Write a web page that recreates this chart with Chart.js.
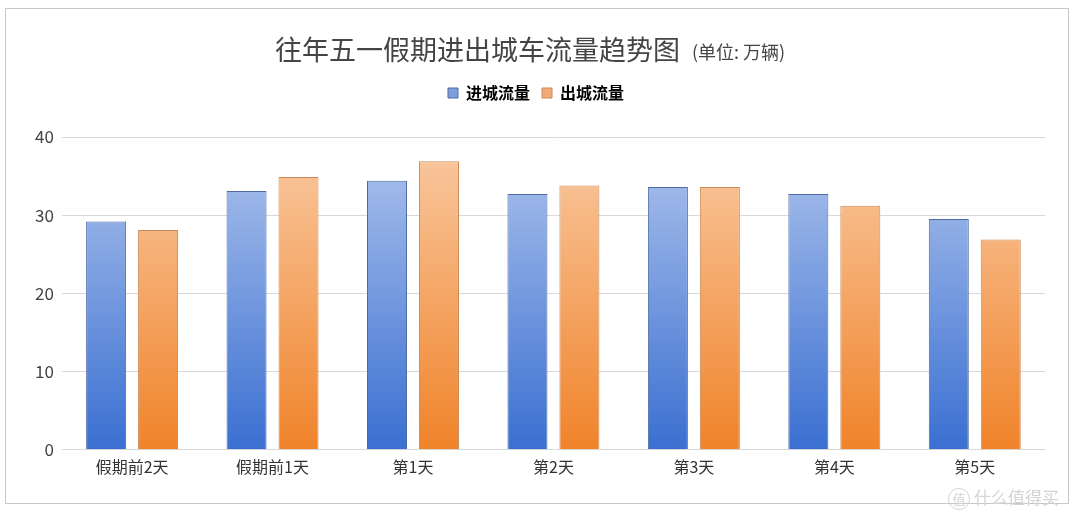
<!DOCTYPE html>
<html>
<head>
<meta charset="utf-8">
<script src="https://cdn.jsdelivr.net/npm/chart.js@4"></script>
<style>
    body { margin: 0; background: #fff; }
    #wrap { position: relative; width: 1080px; height: 519px; }
    #frame {
        position: absolute; left: 5px; top: 8px; width: 1062px; height: 494px;
        border: 1px solid #c8c8c8; pointer-events: none;
    }
    #mark {
        position: absolute; left: 948px; top: 484px;
        font-family: "Noto Sans CJK SC", sans-serif; font-size: 17px; color: #d4d4d4;
    }
    #mark span {
        display: inline-block; width: 20px; height: 20px; line-height: 20px; text-align: center;
        border: 1px solid #d4d4d4; border-radius: 50%; font-size: 13px; margin-right: 4px;
    }
</style>
</head>
<body>
<div id="wrap">
    <canvas id="trendChart" width="1080" height="519"></canvas>
    <div id="frame"></div>
    <div id="mark"><span>值</span>什么值得买</div>
</div>
<script>
// ---- data ----
const categories = ['假期前2天', '假期前1天', '第1天', '第2天', '第3天', '第4天', '第5天'];
const inboundFlow = [29.2, 33.1, 34.4, 32.7, 33.6, 32.7, 29.5];
const outboundFlow = [28.1, 34.9, 36.9, 33.8, 33.6, 31.2, 26.9];
const seriesNames = ['进城流量', '出城流量'];
const titleText = '往年五一假期进出城车流量趋势图';
const unitText = '(单位: 万辆)';

const FONT = '"Noto Sans CJK SC", "Noto Sans", sans-serif';

function makeGradient(top, bottom, solid) {
    return function(context) {
        const chart = context.chart;
        const area = chart.chartArea;
        if (!area) return solid;
        const g = chart.ctx.createLinearGradient(0, area.top, 0, area.bottom);
        g.addColorStop(0, top);
        g.addColorStop(1, bottom);
        return g;
    };
}

// title drawn with two font sizes
const titlePlugin = {
    id: 'mixedTitle',
    afterDraw: function(chart) {
        const ctx = chart.ctx;
        ctx.save();
        ctx.textBaseline = 'middle';
        ctx.fillStyle = '#444';
        ctx.font = '27px ' + FONT;
        const w1 = ctx.measureText(titleText).width;
        ctx.font = '18px ' + FONT;
        const w2 = ctx.measureText(unitText).width;
        const gap = 12;
        const x0 = 530 - (w1 + gap + w2) / 2;
        ctx.font = '27px ' + FONT;
        ctx.textAlign = 'left';
        ctx.fillText(titleText, x0, 50);
        ctx.font = '18px ' + FONT;
        ctx.fillText(unitText, x0 + w1 + gap, 52);
        ctx.restore();
    }
};

// empty box between legend and plot area
const spacerPlugin = {
    id: 'legendSpacer',
    beforeInit: function(chart) {
        const box = {
            position: 'top',
            weight: 1,
            fullSize: true,
            options: {},
            left: 0, top: 0, right: 0, bottom: 0, width: 0, height: 0,
            isHorizontal: function() { return true; },
            update: function(maxWidth) {
                this.width = maxWidth;
                this.height = 26;
            },
            draw: function() {}
        };
        Chart.layouts.addBox(chart, box);
    }
};

const ctx = document.getElementById('trendChart').getContext('2d');
new Chart(ctx, {
    type: 'bar',
    data: {
        labels: categories,
        datasets: [
            {
                label: seriesNames[0],
                data: inboundFlow,
                backgroundColor: makeGradient('#b0c5ed', '#3a6fd1', '#6f92d8'),
                borderColor: '#4d6ca6',
                borderWidth: 1,
                categoryPercentage: 0.74,
                barPercentage: 0.77
            },
            {
                label: seriesNames[1],
                data: outboundFlow,
                backgroundColor: makeGradient('#f9caa3', '#f0832a', '#f3a46a'),
                borderColor: '#c98a58',
                borderWidth: 1,
                categoryPercentage: 0.74,
                barPercentage: 0.77
            }
        ]
    },
    options: {
        responsive: false,
        animation: false,
        layout: { padding: { top: 73, left: 27, right: 35, bottom: 42 } },
        plugins: {
            title: { display: false },
            tooltip: { enabled: false },
            legend: {
                position: 'top',
                labels: {
                    boxWidth: 10,
                    boxHeight: 10,
                    padding: 12,
                    color: '#333',
                    font: { family: FONT, size: 16, weight: 'bold' },
                    generateLabels: function(chart) {
                        const solids = [['#7f9fdc', '#4d6ca6'], ['#f2ab74', '#c98a58']];
                        return chart.data.datasets.map(function(ds, i) {
                            return {
                                text: ds.label,
                                fillStyle: solids[i][0],
                                strokeStyle: solids[i][1],
                                lineWidth: 1,
                                datasetIndex: i
                            };
                        });
                    }
                }
            }
        },
        scales: {
            x: {
                grid: { display: false },
                border: { display: false },
                ticks: { color: '#333', font: { family: FONT, size: 16 }, padding: 0 }
            },
            y: {
                min: 0,
                max: 40,
                ticks: { stepSize: 10, color: '#444', font: { family: FONT, size: 17 }, padding: 8 },
                grid: { color: '#d9d9d9', drawTicks: false },
                border: { display: false }
            }
        }
    },
    plugins: [titlePlugin, spacerPlugin]
});
</script>
</body>
</html>
